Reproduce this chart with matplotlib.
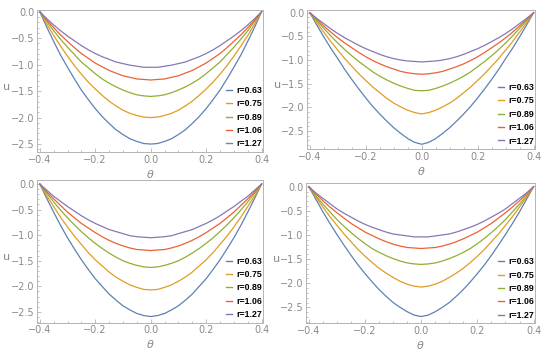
import numpy as np
import matplotlib
matplotlib.use('Agg')
import matplotlib.pyplot as plt
from matplotlib.ticker import MultipleLocator

# theta grid shared by all panels
theta = [-0.400, -0.375, -0.350, -0.325, -0.300, -0.275, -0.250, -0.225, -0.200,
         -0.175, -0.150, -0.125, -0.100, -0.075, -0.050, -0.025, 0.000,
         0.025, 0.050, 0.075, 0.100, 0.125, 0.150, 0.175, 0.200,
         0.225, 0.250, 0.275, 0.300, 0.325, 0.350, 0.375, 0.400]

r_labels = ['r=0.63', 'r=0.75', 'r=0.89', 'r=1.06', 'r=1.27']
colors = ['#5e81b5', '#e19c24', '#8fb032', '#eb6235', '#8778b3']

# panel 1 (top left)
p1_r063 = [0, -0.29, -0.56, -0.82, -1.05, -1.27, -1.48, -1.66, -1.83, -1.98, -2.11, -2.23, -2.32, -2.40, -2.45, -2.49, -2.50,
           -2.49, -2.45, -2.40, -2.32, -2.23, -2.11, -1.98, -1.83, -1.66, -1.48, -1.27, -1.05, -0.82, -0.56, -0.29, 0]
p1_r075 = [0, -0.23, -0.45, -0.65, -0.84, -1.02, -1.18, -1.33, -1.46, -1.58, -1.69, -1.78, -1.86, -1.92, -1.96, -1.99, -2.00,
           -1.99, -1.96, -1.92, -1.86, -1.78, -1.69, -1.58, -1.46, -1.33, -1.18, -1.02, -0.84, -0.65, -0.45, -0.23, 0]
p1_r089 = [0, -0.18, -0.36, -0.52, -0.67, -0.81, -0.95, -1.06, -1.17, -1.27, -1.35, -1.42, -1.48, -1.53, -1.57, -1.59, -1.60,
           -1.59, -1.57, -1.53, -1.48, -1.42, -1.35, -1.27, -1.17, -1.06, -0.95, -0.81, -0.67, -0.52, -0.36, -0.18, 0]
p1_r106 = [0, -0.16, -0.30, -0.44, -0.56, -0.68, -0.79, -0.88, -0.97, -1.04, -1.11, -1.16, -1.21, -1.24, -1.27, -1.28, -1.29,
           -1.28, -1.27, -1.24, -1.21, -1.16, -1.11, -1.04, -0.97, -0.88, -0.79, -0.68, -0.56, -0.44, -0.30, -0.16, 0]
p1_r127 = [0, -0.13, -0.25, -0.36, -0.46, -0.55, -0.64, -0.72, -0.79, -0.85, -0.90, -0.95, -0.98, -1.01, -1.03, -1.05, -1.05,
           -1.05, -1.03, -1.01, -0.98, -0.95, -0.90, -0.85, -0.79, -0.72, -0.64, -0.55, -0.46, -0.36, -0.25, -0.13, 0]

# panel 2 (top right)
p2_r063 = [0, -0.26, -0.51, -0.75, -0.97, -1.20, -1.41, -1.61, -1.80, -1.98, -2.14, -2.29, -2.43, -2.55, -2.66, -2.74, -2.78,
           -2.74, -2.66, -2.55, -2.43, -2.29, -2.14, -1.98, -1.80, -1.61, -1.41, -1.20, -0.97, -0.75, -0.51, -0.26, 0]
p2_r075 = [0, -0.21, -0.41, -0.61, -0.79, -0.97, -1.13, -1.29, -1.43, -1.57, -1.69, -1.81, -1.91, -1.99, -2.06, -2.11, -2.14,
           -2.11, -2.06, -1.99, -1.91, -1.81, -1.69, -1.57, -1.43, -1.29, -1.13, -0.97, -0.79, -0.61, -0.41, -0.21, 0]
p2_r089 = [0, -0.17, -0.33, -0.49, -0.64, -0.78, -0.91, -1.03, -1.14, -1.25, -1.34, -1.42, -1.49, -1.55, -1.60, -1.64, -1.65,
           -1.64, -1.60, -1.55, -1.49, -1.42, -1.34, -1.25, -1.14, -1.03, -0.91, -0.78, -0.64, -0.49, -0.33, -0.17, 0]
p2_r106 = [0, -0.14, -0.28, -0.41, -0.53, -0.64, -0.74, -0.84, -0.93, -1.01, -1.08, -1.14, -1.19, -1.24, -1.27, -1.29, -1.30,
           -1.29, -1.27, -1.24, -1.19, -1.14, -1.08, -1.01, -0.93, -0.84, -0.74, -0.64, -0.53, -0.41, -0.28, -0.14, 0]
p2_r127 = [0, -0.12, -0.23, -0.34, -0.44, -0.53, -0.61, -0.69, -0.76, -0.82, -0.88, -0.93, -0.97, -1.00, -1.02, -1.03, -1.04,
           -1.03, -1.02, -1.00, -0.97, -0.93, -0.88, -0.82, -0.76, -0.69, -0.61, -0.53, -0.44, -0.34, -0.23, -0.12, 0]

# panel 3 (bottom left)
p3_r063 = [0, -0.28, -0.55, -0.81, -1.05, -1.27, -1.48, -1.67, -1.85, -2.00, -2.15, -2.27, -2.38, -2.46, -2.53, -2.57, -2.59,
           -2.57, -2.53, -2.46, -2.38, -2.27, -2.15, -2.00, -1.85, -1.67, -1.48, -1.27, -1.05, -0.81, -0.55, -0.28, 0]
p3_r075 = [0, -0.23, -0.44, -0.65, -0.84, -1.02, -1.18, -1.34, -1.48, -1.60, -1.72, -1.82, -1.90, -1.97, -2.02, -2.06, -2.07,
           -2.06, -2.02, -1.97, -1.90, -1.82, -1.72, -1.60, -1.48, -1.34, -1.18, -1.02, -0.84, -0.65, -0.44, -0.23, 0]
p3_r089 = [0, -0.18, -0.35, -0.51, -0.66, -0.80, -0.93, -1.05, -1.16, -1.26, -1.35, -1.43, -1.50, -1.55, -1.59, -1.62, -1.63,
           -1.62, -1.59, -1.55, -1.50, -1.43, -1.35, -1.26, -1.16, -1.05, -0.93, -0.80, -0.66, -0.51, -0.35, -0.18, 0]
p3_r106 = [0, -0.15, -0.29, -0.42, -0.55, -0.66, -0.77, -0.86, -0.95, -1.03, -1.10, -1.16, -1.21, -1.25, -1.28, -1.29, -1.30,
           -1.29, -1.28, -1.25, -1.21, -1.16, -1.10, -1.03, -0.95, -0.86, -0.77, -0.66, -0.55, -0.42, -0.29, -0.15, 0]
p3_r127 = [0, -0.12, -0.24, -0.34, -0.44, -0.53, -0.62, -0.70, -0.77, -0.83, -0.89, -0.93, -0.97, -1.01, -1.03, -1.04, -1.05,
           -1.04, -1.03, -1.01, -0.97, -0.93, -0.89, -0.83, -0.77, -0.70, -0.62, -0.53, -0.44, -0.34, -0.24, -0.12, 0]

# panel 4 (bottom right)
p4_r063 = [0, -0.26, -0.52, -0.76, -0.99, -1.21, -1.42, -1.62, -1.80, -1.97, -2.13, -2.27, -2.40, -2.50, -2.59, -2.66, -2.69,
           -2.66, -2.59, -2.50, -2.40, -2.27, -2.13, -1.97, -1.80, -1.62, -1.42, -1.21, -0.99, -0.76, -0.52, -0.26, 0]
p4_r075 = [0, -0.22, -0.42, -0.62, -0.80, -0.98, -1.14, -1.30, -1.44, -1.57, -1.69, -1.79, -1.88, -1.96, -2.02, -2.06, -2.08,
           -2.06, -2.02, -1.96, -1.88, -1.79, -1.69, -1.57, -1.44, -1.30, -1.14, -0.98, -0.80, -0.62, -0.42, -0.22, 0]
p4_r089 = [0, -0.19, -0.36, -0.52, -0.68, -0.82, -0.95, -1.07, -1.18, -1.28, -1.36, -1.43, -1.49, -1.54, -1.58, -1.60, -1.61,
           -1.60, -1.58, -1.54, -1.49, -1.43, -1.36, -1.28, -1.18, -1.07, -0.95, -0.82, -0.68, -0.52, -0.36, -0.19, 0]
p4_r106 = [0, -0.15, -0.29, -0.42, -0.54, -0.65, -0.76, -0.85, -0.94, -1.01, -1.08, -1.14, -1.19, -1.23, -1.26, -1.27, -1.28,
           -1.27, -1.26, -1.23, -1.19, -1.14, -1.08, -1.01, -0.94, -0.85, -0.76, -0.65, -0.54, -0.42, -0.29, -0.15, 0]
p4_r127 = [0, -0.13, -0.24, -0.35, -0.46, -0.55, -0.63, -0.71, -0.78, -0.84, -0.89, -0.94, -0.98, -1.00, -1.02, -1.04, -1.04,
           -1.04, -1.02, -1.00, -0.98, -0.94, -0.89, -0.84, -0.78, -0.71, -0.63, -0.55, -0.46, -0.35, -0.24, -0.13, 0]

panels = [
    [p1_r063, p1_r075, p1_r089, p1_r106, p1_r127],
    [p2_r063, p2_r075, p2_r089, p2_r106, p2_r127],
    [p3_r063, p3_r075, p3_r089, p3_r106, p3_r127],
    [p4_r063, p4_r075, p4_r089, p4_r106, p4_r127],
]

W, H = 550, 353
fig = plt.figure(figsize=(W / 100, H / 100), dpi=100)

# axes boxes in pixels: left, top, right, bottom ; y limits
boxes = [(37, 10, 263, 152), (307, 9.5, 535, 149),
         (37, 180, 263, 322.7), (306, 183.3, 535, 323.3)]
ylims = [(-2.65, 0.032), (-2.88, 0.068), (-2.71, 0.078), (-2.83, 0.07)]
ulabel_x = [-0.135, -0.128, -0.135, -0.128]

frame_col = '#b4b4b4'
text_col = '#8a8a8a'

for k, curves in enumerate(panels):
    l, t, r, b = boxes[k]
    ax = fig.add_axes([l / W, 1 - b / H, (r - l) / W, (b - t) / H])
    for y, c, lab in zip(curves, colors, r_labels):
        ax.plot(theta, y, color=c, lw=0.9, label=lab)
    ax.set_xlim(-0.41, 0.405)
    ax.set_ylim(*ylims[k])
    ax.xaxis.set_major_locator(MultipleLocator(0.2))
    ax.xaxis.set_minor_locator(MultipleLocator(0.05))
    ax.yaxis.set_major_locator(MultipleLocator(0.5))
    ax.yaxis.set_minor_locator(MultipleLocator(0.1))
    ax.tick_params(which='both', direction='in', color=frame_col, labelcolor=text_col,
                   labelsize=7, width=0.6, pad=2)
    ax.tick_params(which='major', length=3)
    ax.tick_params(which='minor', length=1.5)
    for s in ax.spines.values():
        s.set_color(frame_col)
        s.set_linewidth(0.7)
    ax.set_xlabel(r'$\theta$', color=text_col, fontsize=8, labelpad=2)
    ax.set_ylabel('u', color=text_col, fontsize=8, rotation=0, va='center', ha='center')
    ax.yaxis.set_label_coords(ulabel_x[k], 0.46)
    leg = ax.legend(loc='lower right', bbox_to_anchor=(1.01, 0.0), frameon=False,
                    handlelength=0.75, handletextpad=0.4, labelspacing=0.5,
                    borderaxespad=0.0, borderpad=0.4,
                    prop={'family': 'Liberation Sans', 'weight': 'bold', 'size': 6.3})
    for line in leg.get_lines():
        line.set_linewidth(1.0)

fig.savefig('out.png', dpi=100)
